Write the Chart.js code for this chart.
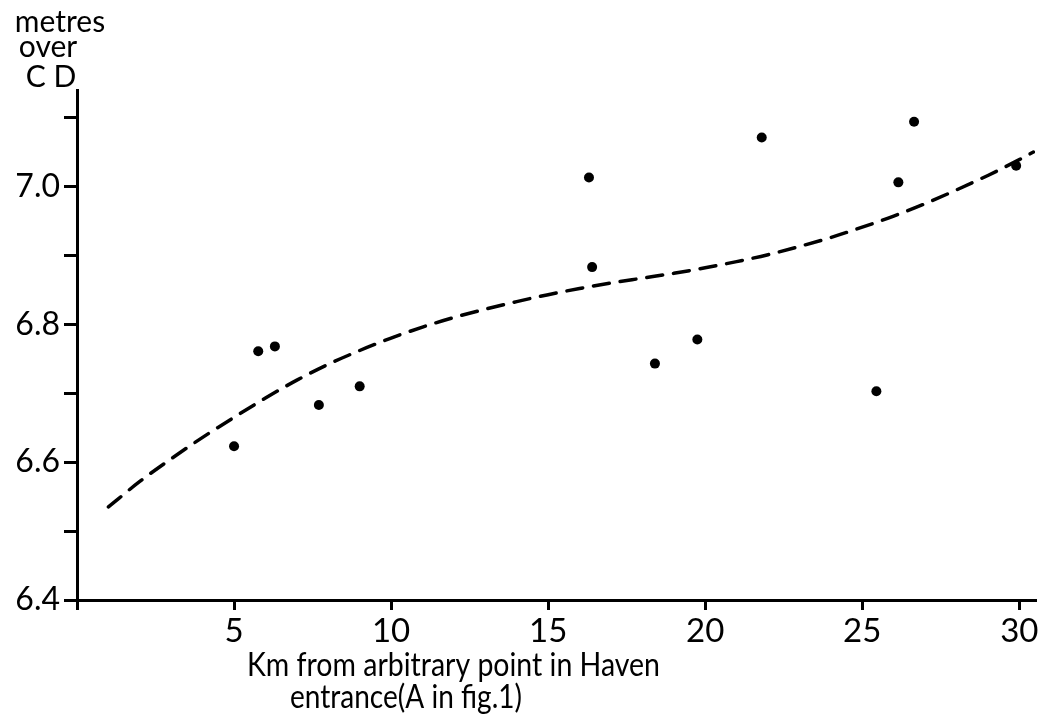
<!DOCTYPE html>
<html>
<head>
<meta charset="utf-8">
<script src="https://cdn.jsdelivr.net/npm/chart.js@4.4.1/dist/chart.umd.min.js"></script>
<style>
  html, body { margin: 0; padding: 0; background: #ffffff; }
  #c { display: block; }
</style>
</head>
<body>
<canvas id="c" width="1042" height="719"></canvas>
<script>
// ---- data ----
const obsKm    = [5.0, 5.77, 6.3, 7.7, 9.0, 16.3, 16.4, 18.4, 19.75, 21.8, 25.45, 26.15, 26.65, 29.9];
const obsLevel = [6.623, 6.761, 6.768, 6.683, 6.710, 7.013, 6.883, 6.743, 6.778, 7.071, 6.703, 7.006, 7.094, 7.030];

const trendKm    = [1, 2, 3, 4, 5, 6, 7, 8, 9, 10, 11, 12, 13, 14, 15, 16, 17, 18, 19, 20, 21, 22, 23, 24, 25, 26, 27, 28, 29, 30, 30.45];
const trendLevel = [6.535, 6.572, 6.605, 6.636, 6.665, 6.693, 6.719, 6.742, 6.762, 6.780, 6.796, 6.810, 6.822, 6.833, 6.843, 6.852, 6.860, 6.867, 6.874, 6.882, 6.891, 6.901, 6.913, 6.926, 6.941, 6.957, 6.975, 6.995, 7.016, 7.039, 7.050];

const xTickValues = [0, 5, 10, 15, 20, 25, 30];
const xTickLabels = ['', '5', '10', '15', '20', '25', '30'];
const yTickValues = [6.4, 6.5, 6.6, 6.7, 6.8, 6.9, 7.0, 7.1];
const yTickLabels = ['6.4', '', '6.6', '', '6.8', '', '7.0', ''];

const yAxisTitleLines = ['metres', 'over', 'C D'];
const xAxisTitleLines = ['Km from arbitrary point in Haven', 'entrance(A in fig.1)'];

// ---- chart ----
const FONT = 'Lato, "Open Sans", sans-serif';
const INK = '#000000';

function fitText(ctx, text, x, y, width) {
  const w = ctx.measureText(text).width;
  ctx.save();
  ctx.translate(x, y);
  ctx.scale(width / w, 1);
  ctx.fillText(text, 0, 0);
  ctx.restore();
}

const titlesPlugin = {
  id: 'titles',
  afterDraw(chart) {
    const ctx = chart.ctx;
    const area = chart.chartArea;
    ctx.save();
    ctx.fillStyle = INK;
    ctx.textBaseline = 'alphabetic';
    // y-axis caption, stacked at top-left
    ctx.font = '30px ' + FONT;
    ctx.textAlign = 'center';
    const yCenters = [60, 48, 51];
    const yBase = [32, 57, 87];
    yAxisTitleLines.forEach((t, i) => ctx.fillText(t, yCenters[i], yBase[i]));
    // x-axis caption, two lines under the axis
    ctx.font = '32px ' + FONT;
    ctx.textAlign = 'left';
    fitText(ctx, xAxisTitleLines[0], area.left + 170, area.bottom + 76, 413);
    fitText(ctx, xAxisTitleLines[1], area.left + 213, area.bottom + 108, 232);
    ctx.restore();
  }
};

new Chart(document.getElementById('c'), {
  type: 'scatter',
  data: {
    datasets: [
      {
        label: 'observations',
        data: obsKm.map((x, i) => ({ x, y: obsLevel[i] })),
        pointRadius: 5,
        pointBackgroundColor: INK,
        pointBorderColor: INK,
        pointBorderWidth: 0,
        showLine: false
      },
      {
        label: 'trend',
        data: trendKm.map((x, i) => ({ x, y: trendLevel[i] })),
        showLine: true,
        pointRadius: 0,
        borderColor: INK,
        borderWidth: 3.5,
        borderDash: [16, 11],
        borderCapStyle: 'round',
        cubicInterpolationMode: 'monotone',
        fill: false
      }
    ]
  },
  options: {
    responsive: false,
    animation: false,
    events: [],
    layout: { padding: { left: 0, top: 90, right: 7, bottom: 0 } },
    plugins: {
      legend: { display: false },
      tooltip: { enabled: false }
    },
    scales: {
      x: {
        type: 'linear',
        min: 0,
        max: 30.5,
        afterBuildTicks(scale) { scale.ticks = xTickValues.map(v => ({ value: v })); },
        afterFit(scale) { scale.height = 119; },
        ticks: {
          callback: (v, i) => xTickLabels[i],
          color: INK,
          font: { family: FONT, size: 33 },
          padding: 2,
          maxRotation: 0,
          autoSkip: false
        },
        grid: {
          display: true,
          drawOnChartArea: false,
          drawTicks: true,
          tickLength: 10,
          color: INK,
          lineWidth: 3
        },
        border: { display: true, color: INK, width: 3 }
      },
      y: {
        type: 'linear',
        min: 6.4,
        max: 7.14,
        afterBuildTicks(scale) { scale.ticks = yTickValues.map(v => ({ value: v })); },
        afterFit(scale) { scale.width = 77; },
        ticks: {
          callback: (v, i) => yTickLabels[i],
          color: INK,
          font: { family: FONT, size: 32 },
          padding: 4,
          autoSkip: false
        },
        grid: {
          display: true,
          drawOnChartArea: false,
          drawTicks: true,
          tickLength: 13,
          color: INK,
          lineWidth: 3
        },
        border: { display: true, color: INK, width: 3 }
      }
    }
  },
  plugins: [titlesPlugin]
});
</script>
</body>
</html>
